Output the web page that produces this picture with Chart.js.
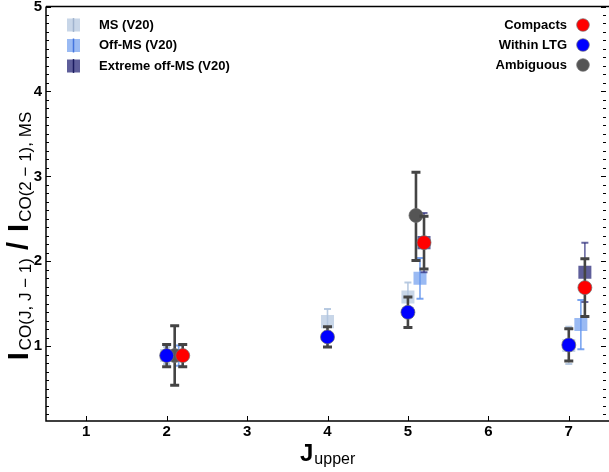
<!DOCTYPE html>
<html>
<head>
<meta charset="utf-8">
<script src="https://cdn.jsdelivr.net/npm/chart.js@4.4.0/dist/chart.umd.min.js"></script>
<style>
  html, body { margin: 0; padding: 0; background: #fff; overflow: hidden; }
  #grafico-co { display: block; }
</style>
</head>
<body>
<canvas id="grafico-co" width="609" height="472" style="width:609px;height:472px"></canvas>
<script>
// Ticks
const xTicks = [1, 2, 3, 4, 5, 6, 7];
const yTicks = [1, 2, 3, 4, 5];

// V20 reference (squares)
const msX = [2.0, 4.0, 5.0, 7.0];
const msY = [0.89, 1.29, 1.58, 1.01];
const msErr = [0.10, 0.15, 0.17, 0.22];

const offX = [2.15, 5.15, 7.15];
const offY = [0.89, 1.80, 1.255];
const offErr = [0.12, 0.24, 0.29];

const extX = [5.2, 7.2];
const extY = [2.22, 1.87];
const extErr = [0.35, 0.35];

// This work (circles)
const compX = [2.2, 5.2, 7.2];
const compY = [0.89, 2.22, 1.69];
const compErr = [0.13, 0.31, 0.34];

const ltgX = [2.0, 4.0, 5.0, 7.0];
const ltgY = [0.89, 1.11, 1.40, 1.015];
const ltgErr = [0.13, 0.12, 0.18, 0.19];

const ambX = [2.1, 5.1];
const ambY = [0.89, 2.54];
const ambErrLo = [0.35, 0.53];
const ambErrHi = [0.35, 0.51];

const FONT = '"Liberation Sans", Arial, sans-serif';

function pontos(xs, ys, lo, hi) {
    return xs.map((x, i) => ({ x: x, y: ys[i], lo: lo[i], hi: (hi || lo)[i] }));
}

function quadrado(label, xs, ys, err, fill, errColor) {
    return {
        label: label,
        data: pontos(xs, ys, err),
        pointStyle: 'rect',
        pointRadius: 9.2,
        backgroundColor: fill,
        borderWidth: 0,
        errColor: errColor,
        errWidth: 1.6,
        capHalf: 3.5,
        capWidth: 2
    };
}

function circulo(label, xs, ys, lo, hi, fill) {
    return {
        label: label,
        data: pontos(xs, ys, lo, hi),
        pointStyle: 'circle',
        pointRadius: 7,
        backgroundColor: fill,
        borderColor: 'rgba(110,110,110,0.7)',
        borderWidth: 1,
        errColor: '#444444',
        errWidth: 2.6,
        capHalf: 4.5,
        capWidth: 3
    };
}

const MS_FILL = 'rgba(176,196,222,0.7)';
const OFF_FILL = 'rgba(100,149,237,0.65)';
const EXT_FILL = 'rgba(40,40,120,0.75)';

// no automatic label padding: the plot box is fixed
function semPadding(s) {
    s.paddingLeft = 0;
    s.paddingRight = 0;
    s.paddingTop = 0;
    s.paddingBottom = 0;
}

// Error bars, drawn just below each dataset's markers
const barrasErro = {
    id: 'barrasErro',
    beforeDatasetDraw(chart, args) {
        const ds = chart.data.datasets[args.index];
        const sx = chart.scales.x, sy = chart.scales.y;
        const ctx = chart.ctx;
        ctx.save();
        ctx.strokeStyle = ds.errColor;
        ds.data.forEach(p => {
            const px = sx.getPixelForValue(p.x);
            const top = sy.getPixelForValue(p.y + p.hi);
            const bot = sy.getPixelForValue(p.y - p.lo);
            ctx.lineWidth = ds.errWidth;
            ctx.beginPath();
            ctx.moveTo(px, top);
            ctx.lineTo(px, bot);
            ctx.stroke();
            ctx.lineWidth = ds.capWidth;
            ctx.beginPath();
            ctx.moveTo(px - ds.capHalf, top);
            ctx.lineTo(px + ds.capHalf, top);
            ctx.moveTo(px - ds.capHalf, bot);
            ctx.lineTo(px + ds.capHalf, bot);
            ctx.stroke();
        });
        ctx.restore();
    }
};

// Frame, inward ticks, legends and axis titles
const moldura = {
    id: 'moldura',
    afterDraw(chart) {
        const ctx = chart.ctx;
        const a = chart.chartArea;
        const sx = chart.scales.x, sy = chart.scales.y;
        ctx.save();
        ctx.strokeStyle = '#000';
        ctx.lineWidth = 1.5;
        ctx.beginPath();
        ctx.moveTo(a.left, a.top);
        ctx.lineTo(a.right, a.top);
        ctx.moveTo(a.left, a.top);
        ctx.lineTo(a.left, a.bottom);
        ctx.lineTo(a.right, a.bottom);
        ctx.stroke();

        // y ticks, both sides
        ctx.lineWidth = 1;
        for (let k = 2; k <= 50; k++) {
            const v = k / 10;
            if (v < sy.min) continue;
            const py = Math.round(sy.getPixelForValue(v)) + 0.5;
            const len = (k % 10 === 0) ? 5 : 3;
            ctx.beginPath();
            ctx.moveTo(a.left, py);
            ctx.lineTo(a.left + len, py);
            ctx.moveTo(a.right - 3, py);
            ctx.lineTo(a.right - 3 - len, py);
            ctx.stroke();
        }
        // x ticks
        xTicks.forEach(v => {
            const px = Math.round(sx.getPixelForValue(v)) + 0.5;
            ctx.beginPath();
            ctx.moveTo(px, a.bottom);
            ctx.lineTo(px, a.bottom - 5);
            ctx.stroke();
        });

        // left legend (squares)
        const esquerda = [
            ['MS (V20)', MS_FILL, 'rgba(150,170,200,0.8)'],
            ['Off-MS (V20)', OFF_FILL, 'rgba(60,110,220,0.9)'],
            ['Extreme off-MS (V20)', EXT_FILL, 'rgba(20,20,90,0.9)']
        ];
        ctx.font = 'bold 13px ' + FONT;
        ctx.textBaseline = 'middle';
        esquerda.forEach((e, i) => {
            const cy = 25 + i * 20.5;
            ctx.fillStyle = e[1];
            ctx.fillRect(67, cy - 6.5, 13, 13);
            ctx.strokeStyle = e[2];
            ctx.lineWidth = 1.5;
            ctx.beginPath();
            ctx.moveTo(73.5, cy - 7);
            ctx.lineTo(73.5, cy + 7);
            ctx.stroke();
            ctx.fillStyle = '#000';
            ctx.textAlign = 'left';
            ctx.fillText(e[0], 99, cy);
        });

        // right legend (circles)
        const direita = [
            ['Compacts', '#ff0000'],
            ['Within LTG', '#0000ff'],
            ['Ambiguous', '#555555']
        ];
        direita.forEach((e, i) => {
            const cy = 25 + i * 20;
            ctx.fillStyle = '#000';
            ctx.textAlign = 'right';
            ctx.fillText(e[0], 567, cy);
            ctx.beginPath();
            ctx.arc(583, cy, 6.3, 0, Math.PI * 2);
            ctx.fillStyle = e[1];
            ctx.fill();
            ctx.strokeStyle = 'rgba(110,110,110,0.7)';
            ctx.lineWidth = 1;
            ctx.stroke();
        });

        // x title: J_upper
        ctx.fillStyle = '#000';
        ctx.textAlign = 'left';
        ctx.textBaseline = 'alphabetic';
        ctx.font = 'bold 24px ' + FONT;
        ctx.fillText('J', 300, 461);
        const wJ = ctx.measureText('J').width;
        ctx.font = '16px ' + FONT;
        ctx.fillText('upper', 300 + wJ + 1, 464);

        // y title: I_CO(J, J-1) / I_CO(2-1), MS
        const partes = [
            ['I', 'bold 29px ' + FONT, 0, 2],
            ['CO(J, J \u2212 1)', '17px ' + FONT, 3, 0],
            [' / ', 'bold 29px ' + FONT, 0, 2],
            ['I', 'bold 29px ' + FONT, 0, 2],
            ['CO(2 \u2212 1), MS', '17px ' + FONT, 3, 0]
        ];
        let total = 0;
        partes.forEach(p => { ctx.font = p[1]; total += ctx.measureText(p[0]).width + p[3]; });
        ctx.translate(28, 236);
        ctx.rotate(-Math.PI / 2);
        let cx = -total / 2;
        partes.forEach(p => {
            ctx.font = p[1];
            ctx.fillText(p[0], cx, p[2]);
            cx += ctx.measureText(p[0]).width + p[3];
        });
        ctx.restore();
    }
};

new Chart(document.getElementById('grafico-co'), {
    type: 'scatter',
    data: {
        datasets: [
            circulo('Compacts', compX, compY, compErr, null, '#ff0000'),
            circulo('Within LTG', ltgX, ltgY, ltgErr, null, '#0000ff'),
            circulo('Ambiguous', ambX, ambY, ambErrLo, ambErrHi, '#555555'),
            quadrado('Extreme off-MS (V20)', extX, extY, extErr, EXT_FILL, 'rgba(40,40,120,0.7)'),
            quadrado('Off-MS (V20)', offX, offY, offErr, OFF_FILL, 'rgba(100,149,237,0.85)'),
            quadrado('MS (V20)', msX, msY, msErr, MS_FILL, 'rgba(176,196,222,0.9)')
        ]
    },
    options: {
        responsive: false,
        animation: false,
        devicePixelRatio: 1,
        layout: { autoPadding: false, padding: { top: 6.5, right: 0, bottom: 0, left: 0 } },
        plugins: {
            legend: { display: false },
            tooltip: { enabled: false }
        },
        scales: {
            x: {
                type: 'linear',
                min: 0.5,
                max: 7.5,
                afterBuildTicks: s => { s.ticks = xTicks.map(v => ({ value: v })); },
                afterFit: s => { s.height = 51; semPadding(s); },
                grid: { display: false, drawTicks: false },
                border: { display: false },
                ticks: { color: '#000', padding: 2, maxRotation: 0, autoSkip: false,
                         font: { family: FONT, size: 15, weight: 'bold' } }
            },
            y: {
                type: 'linear',
                min: 0.12,
                max: 5,
                afterBuildTicks: s => { s.ticks = yTicks.map(v => ({ value: v })); },
                afterFit: s => { s.width = 46; semPadding(s); },
                grid: { display: false, drawTicks: false },
                border: { display: false },
                ticks: { color: '#000', padding: 4, autoSkip: false,
                         font: { family: FONT, size: 15, weight: 'bold' } }
            }
        }
    },
    plugins: [barrasErro, moldura]
});
</script>
</body>
</html>
